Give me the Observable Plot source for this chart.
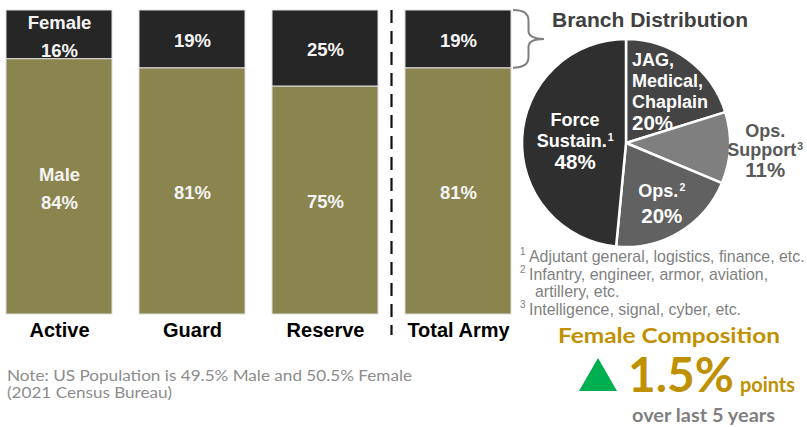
<!DOCTYPE html>
<html>
<head>
<meta charset="utf-8">
<script src="https://cdn.jsdelivr.net/npm/d3@7"></script>
<script src="https://cdn.jsdelivr.net/npm/@observablehq/plot@0.6"></script>
<style>
html, body { margin: 0; padding: 0; background: #fff; overflow: hidden; }
#chart { width: 807px; height: 427px; overflow: hidden; }
#chart svg [aria-label="x-axis tick label"] text { font-weight: bold; }
</style>
</head>
<body>
<div id="chart"></div>
<script>
// ---------- data ----------
const units = ["Active", "Guard", "Reserve", "Total Army"];
const femalePct = [16, 19, 25, 19];
const malePct = [84, 81, 75, 81];
const sexes = ["Male", "Female"];

const branchNames = [["JAG,", "Medical,", "Chaplain"], ["Ops.", "Support"], ["Ops."], ["Force", "Sustain."]];
const branchNoteRefs = [null, "3", "2", "1"];
const branchShares = [20, 11, 20, 48];

const footnoteRefs = ["1", "2", "", "3"];
const footnoteLines = [
  "Adjutant general, logistics, finance, etc.",
  "Infantry, engineer, armor, aviation,",
  "artillery, etc.",
  "Intelligence, signal, cyber, etc."
];

const noteLines = ["Note: US Population is 49.5% Male and 50.5% Female", "(2021 Census Bureau)"];
const pieTitle = "Branch Distribution";
const compTitle = "Female Composition";
const compChange = "1.5%";
const compUnit = "points";
const compPeriod = "over last 5 years";

// ---------- table ----------
const rows = units.flatMap((u, i) => [
  {unit: u, sex: "Male", pct: malePct[i]},
  {unit: u, sex: "Female", pct: femalePct[i]}
]);

const ARIAL = "'Liberation Sans', Arial, sans-serif";
const CALIBRI = "Lato, 'Open Sans', sans-serif";

// dashed separator between Reserve and Total Army
function separator(index, scales, values, dims) {
  const x = scales.x, bw = x.bandwidth();
  const xm = ((x("Reserve") + bw) + x("Total Army")) / 2;
  return d3.create("svg:line")
    .attr("x1", xm).attr("x2", xm)
    .attr("y1", dims.marginTop).attr("y2", dims.height - dims.marginBottom + 21)
    .attr("stroke", "#111").attr("stroke-width", 2.2)
    .attr("stroke-dasharray", "13,8")
    .node();
}

// curly brace beside Total Army female segment
function brace(index, scales, values, dims) {
  const x = scales.x, y = scales.y, bw = x.bandwidth();
  const last = units.length - 1;
  const x0 = x(units[last]) + bw + 2;
  const y0 = y(100), y1 = y(100 - femalePct[last]);
  const w = 31, h = y1 - y0, ym = (y0 + y1) / 2;
  const xv = x0 + w * 0.5;
  const p = `M${x0},${y0} Q${xv},${y0} ${xv},${y0 + h * 0.18} L${xv},${ym - h * 0.14} Q${xv},${ym} ${x0 + w},${ym} ` +
            `Q${xv},${ym} ${xv},${ym + h * 0.14} L${xv},${y1 - h * 0.18} Q${xv},${y1} ${x0},${y1}`;
  return d3.create("svg:path").attr("d", p).attr("fill", "none")
    .attr("stroke", "#7f7f7f").attr("stroke-width", 2).node();
}

// pie of branch distribution
function pie() {
  const cx = 626, cy = 143, R = 104;
  const g = d3.create("svg:g").attr("font-family", ARIAL);
  g.append("text").attr("x", 650).attr("y", 27).attr("text-anchor", "middle")
    .attr("font-size", 21).attr("font-weight", "bold").attr("fill", "#404040").text(pieTitle);
  const data = branchShares.map((v, i) => ({i, v}));
  const arcs = d3.pie().sort(null).value(d => d.v)(data);
  const arc = d3.arc().innerRadius(0).outerRadius(R);
  const fills = ["#444444", "#7f7f7f", "#616161", "#2f2f2f"];
  const gp = g.append("g").attr("transform", `translate(${cx},${cy})`);
  gp.selectAll("path").data(arcs).join("path")
    .attr("d", arc).attr("fill", d => fills[d.index])
    .attr("stroke", "#fff").attr("stroke-width", 2.5).attr("stroke-linejoin", "round");
  const layout = [
    {r: 0.62, anchor: "start", fx: 6, color: "#fff", lh: 20.8},
    {r: 1.34, anchor: "middle", color: "#595959", lh: 19.5},
    {r: 0.67, anchor: "middle", color: "#fff", lh: 25},
    {r: 0.49, anchor: "middle", color: "#fff", lh: 21}
  ];
  arcs.forEach((a, k) => {
    const L = layout[k];
    const mid = (a.startAngle + a.endAngle) / 2;
    let x = Math.sin(mid) * L.r * R;
    const y = -Math.cos(mid) * L.r * R;
    if (L.fx !== undefined) x = L.fx;
    const names = branchNames[k];
    const lines = names.map((t, j) => ({t, sup: j === names.length - 1 ? branchNoteRefs[k] : null, size: 18}));
    lines.push({t: branchShares[k] + "%", size: 20.5});
    const y0 = y - (lines.length - 1) * L.lh / 2;
    const text = gp.append("text").attr("text-anchor", L.anchor).attr("fill", L.color).attr("font-weight", "bold");
    lines.forEach((ln, j) => {
      text.append("tspan").attr("x", x).attr("y", y0 + j * L.lh).attr("dy", "0.36em")
        .attr("font-size", ln.size).text(ln.t);
      if (ln.sup) {
        text.append("tspan").attr("font-size", 10.5).attr("dy", -6).attr("dx", 1).text(ln.sup);
      }
    });
  });
  return g.node();
}

// footnotes, note, female composition callout
function annotations() {
  const g = d3.create("svg:g").attr("text-anchor", "start");
  const fn = g.append("g").attr("font-family", ARIAL).attr("fill", "#7f7f7f");
  footnoteLines.forEach((t, i) => {
    const yb = 262 + i * 17.6;
    if (footnoteRefs[i]) fn.append("text").attr("x", 520).attr("y", yb - 7).attr("font-size", 10).text(footnoteRefs[i]);
    fn.append("text").attr("x", footnoteRefs[i] ? 529 : 535).attr("y", yb).attr("font-size", 15.9).text(t);
  });
  const note = g.append("g").attr("font-family", CALIBRI).attr("fill", "#8c8c8c").attr("font-size", 15.5);
  note.append("text").attr("x", 7).attr("y", 381).attr("textLength", 405).attr("lengthAdjust", "spacingAndGlyphs").text(noteLines[0]);
  note.append("text").attr("x", 7).attr("y", 398).attr("textLength", 165).attr("lengthAdjust", "spacingAndGlyphs").text(noteLines[1]);
  const c = g.append("g").attr("font-family", CALIBRI).attr("font-weight", "bold");
  c.append("text").attr("x", 558).attr("y", 343).attr("font-size", 20.5).attr("fill", "#bf9000")
    .attr("textLength", 222).attr("lengthAdjust", "spacingAndGlyphs").text(compTitle);
  c.append("path").attr("d", "M579,391 L617,391 L598,358 Z").attr("fill", "#00b050");
  c.append("text").attr("x", 628).attr("y", 392).attr("font-size", 48).attr("fill", "#bf9000")
    .attr("textLength", 106).attr("lengthAdjust", "spacingAndGlyphs").text(compChange);
  c.append("text").attr("x", 740).attr("y", 392).attr("font-size", 20).attr("fill", "#bf9000")
    .attr("textLength", 55).attr("lengthAdjust", "spacingAndGlyphs").text(compUnit);
  c.append("text").attr("x", 632).attr("y", 421.5).attr("font-size", 19).attr("fill", "#7f7f7f")
    .attr("textLength", 143).attr("lengthAdjust", "spacingAndGlyphs").text(compPeriod);
  return g.node();
}

const chart = Plot.plot({
  width: 807,
  height: 427,
  marginLeft: 5,
  marginRight: 295,
  marginTop: 10,
  marginBottom: 113,
  x: {domain: units, paddingInner: 0.2, paddingOuter: 0, label: null},
  y: {domain: [0, 100], axis: null},
  color: {domain: ["Female", "Male"], range: ["#262626", "#8a844f"]},
  style: {fontFamily: ARIAL, background: "#fff", color: "#000", overflow: "visible"},
  marks: [
    Plot.barY(rows, {x: "unit", y: "pct", fill: "sex", z: "sex", order: sexes, stroke: "#dedede", strokeWidth: 1}),
    Plot.text(rows, Plot.stackY({
      x: "unit", y: "pct", z: "sex", order: sexes,
      text: d => (d.unit === units[0] ? d.sex + "\n" : "") + d.pct + "%",
      fill: "#f4f4f4", fontSize: 18.5, fontWeight: "bold", lineHeight: 1.5, dy: -1
    })),
    Plot.axisX({tickSize: 0, tickPadding: 8, fontSize: 20, fontWeight: "bold", fill: "#000", label: null}),
    separator,
    brace,
    pie,
    annotations
  ]
});
document.getElementById("chart").appendChild(chart);
</script>
</body>
</html>
